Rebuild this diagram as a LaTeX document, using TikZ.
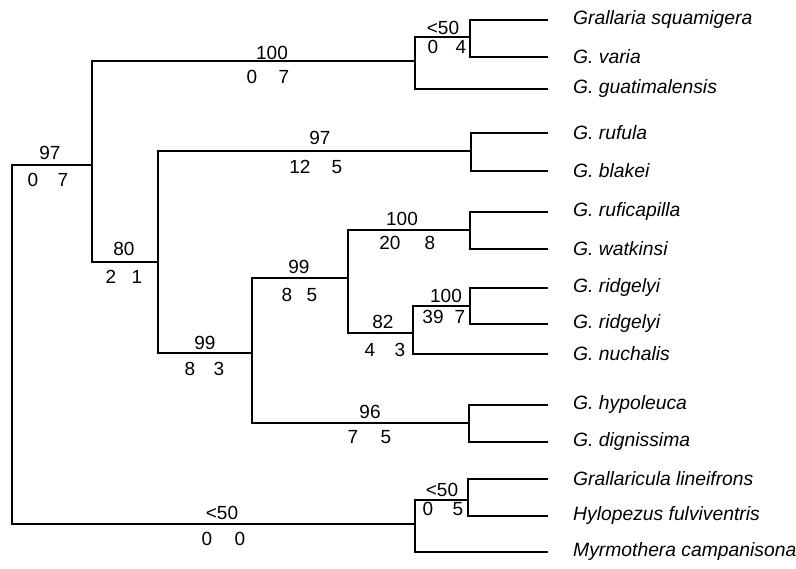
\documentclass[tikz,border=0pt]{standalone}
\usepackage{fontspec}
\setmainfont{Liberation Sans}
\begin{document}
\begin{tikzpicture}[x=1pt,y=-1pt,
  branch/.style={line width=1.8pt},
  num/.style={inner sep=0pt,font=\fontsize{19}{19}\selectfont},
  taxon/.style={anchor=west,inner sep=0pt,font=\fontsize{19.3}{19.3}\selectfont\itshape}]
\useasboundingbox (0,0) rectangle (796,569);
% internal nodes
\coordinate (R) at (12,344);
\coordinate (A) at (92,165);
\coordinate (B) at (415,61);
\coordinate (D) at (470,37);
\coordinate (C) at (158,262);
\coordinate (E) at (471,151);
\coordinate (F) at (252,353);
\coordinate (G) at (348,278);
\coordinate (I) at (470,230);
\coordinate (J) at (413,333);
\coordinate (K) at (470,306);
\coordinate (H) at (469,423);
\coordinate (L) at (415,524);
\coordinate (M) at (468,500);
% leaves
\coordinate (t1) at (548,20);
\coordinate (t2) at (548,57);
\coordinate (t3) at (548,89);
\coordinate (t4) at (548,133);
\coordinate (t5) at (548,171);
\coordinate (t6) at (548,212);
\coordinate (t7) at (548,249);
\coordinate (t8) at (548,288);
\coordinate (t9) at (548,324);
\coordinate (t10) at (548,354);
\coordinate (t11) at (548,405);
\coordinate (t12) at (548,442);
\coordinate (t13) at (548,479);
\coordinate (t14) at (548,516);
\coordinate (t15) at (548,552);
% branches
\draw[branch] (R) |- (A);
\draw[branch] (R) |- (L);
\draw[branch] (A) |- (B);
\draw[branch] (A) |- (C);
\draw[branch] (B) |- (D);
\draw[branch] (B) |- (t3);
\draw[branch] (D) |- (t1);
\draw[branch] (D) |- (t2);
\draw[branch] (C) |- (E);
\draw[branch] (C) |- (F);
\draw[branch] (E) |- (t4);
\draw[branch] (E) |- (t5);
\draw[branch] (F) |- (G);
\draw[branch] (F) |- (H);
\draw[branch] (G) |- (I);
\draw[branch] (G) |- (J);
\draw[branch] (I) |- (t6);
\draw[branch] (I) |- (t7);
\draw[branch] (J) |- (K);
\draw[branch] (J) |- (t10);
\draw[branch] (K) |- (t8);
\draw[branch] (K) |- (t9);
\draw[branch] (H) |- (t11);
\draw[branch] (H) |- (t12);
\draw[branch] (L) |- (M);
\draw[branch] (L) |- (t15);
\draw[branch] (M) |- (t13);
\draw[branch] (M) |- (t14);
% taxon names
\node[taxon] (n1) at (573,20) {Grallaria squamigera};
\node[taxon] (n2) at (573,57) {G. varia};
\node[taxon] (n3) at (573,89) {G. guatimalensis};
\node[taxon] (n4) at (573,133) {G. rufula};
\node[taxon] (n5) at (573,171) {G. blakei};
\node[taxon] (n6) at (573,212) {G. ruficapilla};
\node[taxon] (n7) at (573,249) {G. watkinsi};
\node[taxon] (n8) at (573,288) {G. ridgelyi};
\node[taxon] (n9) at (573,324) {G. ridgelyi};
\node[taxon] (n10) at (573,354) {G. nuchalis};
\node[taxon] (n11) at (573,405) {G. hypoleuca};
\node[taxon] (n12) at (573,442) {G. dignissima};
\node[taxon] (n13) at (573,479) {Grallaricula lineifrons};
\node[taxon] (n14) at (573,516) {Hylopezus fulviventris};
\node[taxon] (n15) at (573,552) {Myrmothera campanisona};
% support values and counts
\node[num] (bA) at (50,153) {97};
\node[num] (cA1) at (33,180) {0};
\node[num] (cA2) at (63,180) {7};
\node[num] (bB) at (272,53) {100};
\node[num] (cB1) at (252,77) {0};
\node[num] (cB2) at (284,77) {7};
\node[num] (bD) at (443,28) {<50};
\node[num] (cD1) at (433,47) {0};
\node[num] (cD2) at (461,47) {4};
\node[num] (bE) at (320,138) {97};
\node[num] (cE1) at (300,167) {12};
\node[num] (cE2) at (337,167) {5};
\node[num] (bC) at (124,249) {80};
\node[num] (cC1) at (111,277) {2};
\node[num] (cC2) at (137,277) {1};
\node[num] (bF) at (205,343) {99};
\node[num] (cF1) at (190,369) {8};
\node[num] (cF2) at (219,369) {3};
\node[num] (bG) at (299,267) {99};
\node[num] (cG1) at (287,295) {8};
\node[num] (cG2) at (312,295) {5};
\node[num] (bI) at (402,219) {100};
\node[num] (cI1) at (390,243) {20};
\node[num] (cI2) at (430,243) {8};
\node[num] (bJ) at (383,322) {82};
\node[num] (cJ1) at (370,350) {4};
\node[num] (cJ2) at (400,350) {3};
\node[num] (bK) at (446,296) {100};
\node[num] (cK1) at (433,317) {39};
\node[num] (cK2) at (460,317) {7};
\node[num] (bH) at (370,412) {96};
\node[num] (cH1) at (353,437) {7};
\node[num] (cH2) at (386,437) {5};
\node[num] (bL) at (222,513) {<50};
\node[num] (cL1) at (207,539) {0};
\node[num] (cL2) at (240,539) {0};
\node[num] (bM) at (442,490) {<50};
\node[num] (cM1) at (428,509) {0};
\node[num] (cM2) at (458,509) {5};
\end{tikzpicture}
\end{document}
